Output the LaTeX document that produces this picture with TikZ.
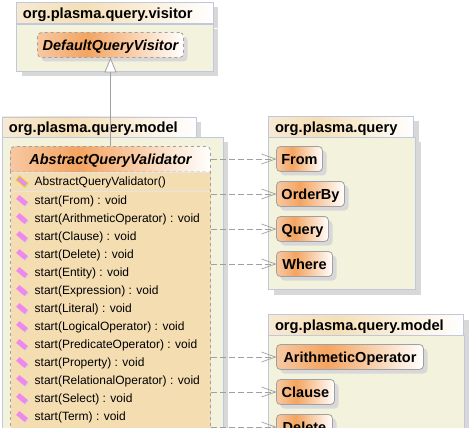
\documentclass[tikz,border=0pt]{standalone}
\usepackage{fontspec}
\setmainfont{Liberation Sans}
\usetikzlibrary{arrows.meta,shadows}
\definecolor{pkgLine}{HTML}{BFC8DC}
\definecolor{pkgBody}{HTML}{F3F2DC}
\definecolor{shadowGray}{HTML}{D8D8D8}
\definecolor{wireGray}{HTML}{A0A0A0}
\definecolor{classBody}{HTML}{F5DDB2}
\definecolor{orangeLeft}{HTML}{F7C8A2}
\definecolor{orangePeak}{HTML}{F4A460}
\definecolor{tabLeft}{HTML}{F7E9D2}
\definecolor{tabPeak}{HTML}{F5DFB6}
\definecolor{iconPink}{HTML}{EE88EE}
\pgfdeclarehorizontalshading{orangeFade}{100bp}{color(0bp)=(orangeLeft); color(25bp)=(orangeLeft); color(42bp)=(orangePeak); color(75bp)=(white); color(100bp)=(white)}
\pgfdeclarehorizontalshading{tabFade}{100bp}{color(0bp)=(tabLeft); color(25bp)=(tabLeft); color(42bp)=(tabPeak); color(75bp)=(white); color(100bp)=(white)}
\tikzset{
  shadowed/.style={drop shadow={shadow xshift=#1,shadow yshift=-#1,fill=shadowGray,opacity=1}},
  pkgTab/.style={draw=pkgLine,shade,shading=tabFade,shadowed=5pt,anchor=north west,inner xsep=6.5pt,inner ysep=0pt,outer sep=0pt,
    minimum height=21pt,align=left,text height=12pt,text depth=1pt,font=\fontsize{14.7}{16}\selectfont\bfseries},
  pkgBox/.style={draw=pkgLine,fill=pkgBody,shadowed=5pt,anchor=north west,inner sep=0pt,outer sep=0pt},
  classBox/.style={draw=wireGray,line width=0.8pt,shade,shading=orangeFade,rounded corners=4pt,shadowed=4pt,anchor=north west,inner sep=0pt,outer sep=0pt,
    minimum height=25pt,text height=12pt,text depth=1pt,font=\fontsize{14.5}{16}\selectfont\bfseries},
  rowText/.style={anchor=west,inner sep=0pt,font=\fontsize{12}{14}\selectfont},
  opIcon/.style={fill=iconPink,rotate=-40,minimum width=11pt,minimum height=5pt,inner sep=0pt,shadowed=1pt},
  useWire/.style={draw=wireGray,line width=0.8pt,dash pattern=on 6pt off 3pt,-{Straight Barb[length=14pt,width=10pt,line width=0.7pt,sep=0pt]}},
}
\begin{document}
\begin{tikzpicture}[x=1pt,y=-1pt]
      \clip (0,0) rectangle (472,428);
      \fill[white] (0,0) rectangle (472,428);
      %Visitor package
      \node[pkgTab,text width=183.5pt] (visitorTab) at (16.5,2.5) {org.plasma.query.visitor};
      \node[pkgBox,minimum width=196.5pt,minimum height=47pt] (visitorBody) at (16.5,24) {};
      \node[classBox,dashed,minimum width=146pt,font=\fontsize{14.5}{16}\selectfont\bfseries\itshape] (defaultVisitor) at (37.5,32.5) {DefaultQueryVisitor};
      %Model package on the left
      \node[pkgTab,text width=180.5pt] (modelTab) at (2.5,117) {org.plasma.query.model};
      \node[pkgBox,minimum width=220.5pt,minimum height=320pt] (modelBody) at (2.5,137) {};
      %Validator class
      \fill[classBody] (10.5,165) rectangle (210.5,440);
      \draw[wireGray,line width=0.8pt,dashed] (10.5,165) -- (10.5,440);
      \draw[wireGray,line width=0.8pt,dashed] (210.5,165) -- (210.5,440);
      \shade[shading=orangeFade,draw=wireGray,line width=0.8pt,dashed] (10.5,172) {[rounded corners=4pt] -- (10.5,146.5) -- (210.5,146.5)} -- (210.5,172) -- cycle;
      \node[anchor=north west,inner sep=0pt,outer sep=0pt,minimum width=200pt,minimum height=25.5pt,text height=12pt,text depth=1pt,font=\fontsize{14.5}{16}\selectfont\bfseries\itshape] (validator) at (10.5,146.5) {AbstractQueryValidator};
      \draw[white!90!black] (11,172) -- (210,172);
      \draw[white!90!black] (11,190.7) -- (210,190.7);
      %Operations
      \node[opIcon,draw=yellow!85!black,line width=0.8pt] (ctorIcon) at (22,181.5) {};
      \node[rowText] (ctorRow) at (34.5,182.5) {AbstractQueryValidator()};
      \foreach \rowName [count=\i from 0] in {From,ArithmeticOperator,Clause,Delete,Entity,Expression,Literal,LogicalOperator,PredicateOperator,Property,RelationalOperator,Select,Term}
      {
        \node[opIcon] (icon\i) at (22,200.5+18*\i) {};
        \node[rowText] (row\i) at (34.5,201.6+18*\i) {start(\rowName) : void};
      }
      %Query package
      \node[pkgTab,text width=132pt] (queryTab) at (268.5,116.5) {org.plasma.query};
      \node[pkgBox,minimum width=147pt,minimum height=152pt] (queryBody) at (268.5,137.5) {};
      \node[classBox,minimum width=46pt] (from) at (276.5,146.5) {From};
      \node[classBox,minimum width=68pt] (orderBy) at (276.5,181.5) {OrderBy};
      \node[classBox,minimum width=52pt] (query) at (276.5,216.5) {Query};
      \node[classBox,minimum width=56pt] (where) at (276.5,251.5) {Where};
      %Model package on the right
      \node[pkgTab,text width=182pt] (rightTab) at (268.5,314.5) {org.plasma.query.model};
      \node[pkgBox,minimum width=195.5pt,minimum height=120pt] (rightBody) at (268.5,335) {};
      \node[classBox,minimum width=147pt] (arithmetic) at (276.5,344.5) {ArithmeticOperator};
      \node[classBox,minimum width=58pt] (clause) at (276.5,379.5) {Clause};
      \node[classBox,minimum width=56pt] (delete) at (276.5,414.5) {Delete};
      %Connectors
      \draw[draw=wireGray,line width=0.8pt,-{Triangle[length=15pt,width=12pt,fill=white]}] (validator.north) -- (defaultVisitor.south);
      \foreach \target in {from,orderBy,query,where,arithmetic,clause,delete}
        \draw[useWire] (validator.east |- \target.west) -- (\target.west);
\end{tikzpicture}
\end{document}
